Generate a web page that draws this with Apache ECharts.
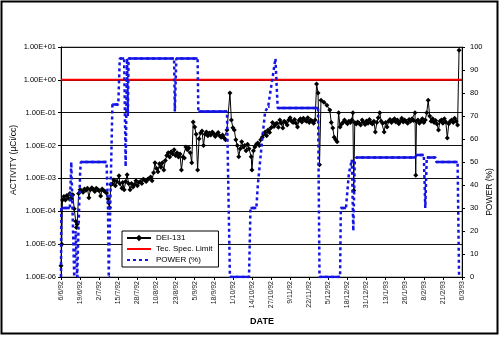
<!DOCTYPE html>
<html>
<head>
<meta charset="utf-8">
<script src="https://cdn.jsdelivr.net/npm/echarts/dist/echarts.min.js"></script>
<style>
html,body{margin:0;padding:0;background:#fff;}
#chart{width:500px;height:339px;}
</style>
</head>
<body>
<div id="chart"></div>
<script>
const tickLabels = ['6/6/92','19/6/92','2/7/92','15/7/92','28/7/92','10/8/92','23/8/92','5/9/92','18/9/92','1/10/92','14/10/92','27/10/92','9/11/92','22/11/92','5/12/92','18/12/92','31/12/92','13/1/93','26/1/93','8/2/93','21/2/93','6/3/93'];
const tickStepDays = 13;

// DEI-131 activity (µCi/cc), day offset from 6/6/92
const deiDays = [0,0.5,1,2,3,4,5,6,7,8,9,10,10.5,11,12,13,14,15,16,17,18,19,20,21,22,23,24,25,26,27,28,29,30,31,32,32.5,33,34,35,36,37,38,39.5,40,41.5,42,43,44,45,46,47,48,49,50,51,52,53,54,55,56,57,58,59,60,61,62,63,64,65,66,67,68,69,70,71,72,73,74,75,76,77,78,79,80,81,82,83,84,85,86,87,88,89,90,91,92,93,94,95,96,97,98,99,100,101,102,103,104,105,106,107,108,109,110,111,112,113,115,116,117,118,119,120,121,122,123,124,125,126,127,128,129.5,130,131,132,133,134,135,136,137,138,139,140,141,142,143,144,145,146,147,148,149,150,151,152,153,154,155,156,157,158,159,160,161,162,163,164,165,166,167,168,169,170,171,172,173,174,175,176,177,179,181,183,184,185,186,187,188,189,190,191,192,193,194,195,196,197,198,198.7,199.3,200,201,202,203,204,205,206,207,208,209,210,211,212,213,214,215,216,217,218,219,220,221,222,223,224,225,226,227,228,229,230,231,232,233,234,235,236,237,238,239,240,241,241.5,242,243,244,245,246,247,248,249,250,251,252,253,254,255,256,257,258,259,260,261,262,263,264,265,266,267,268,269,270,271];
const deiValues = [2.2e-6,1.0e-5,2.2e-4,2.8e-4,2.2e-4,3.0e-4,2.5e-4,3.5e-4,2.4e-4,3.2e-4,1.2e-4,5.0e-5,3.2e-5,4.0e-5,3.5e-4,4.5e-4,4.2e-4,3.8e-4,4.8e-4,4.4e-4,5.0e-4,2.6e-4,4.5e-4,5.2e-4,4.6e-4,4.0e-4,5.0e-4,4.6e-4,4.2e-4,2.9e-4,4.8e-4,4.3e-4,4.0e-4,3.6e-4,2.4e-4,1.8e-4,1.3e-4,6.5e-4,6.9e-4,9.0e-4,6.0e-4,8.0e-4,1.2e-3,7.0e-4,5.0e-4,7.5e-4,4.5e-4,8.0e-4,1.3e-3,7.0e-4,4.5e-4,7.0e-4,5.5e-4,6.5e-4,8.5e-4,6.0e-4,7.5e-4,8.0e-4,7.0e-4,9.5e-4,9.0e-4,8.0e-4,9.5e-4,1.0e-3,1.1e-3,8.5e-4,1.5e-3,3.0e-3,2.0e-3,1.6e-3,2.8e-3,2.2e-3,3.0e-3,1.8e-3,3.5e-3,5.0e-3,6.0e-3,4.5e-3,6.5e-3,5.5e-3,7.4e-3,5.0e-3,6.0e-3,4.5e-3,5.5e-3,1.8e-3,4.5e-3,4.2e-3,9.0e-3,7.4e-3,8.5e-3,6.0e-3,3.0e-3,5.2e-2,3.7e-2,2.2e-2,1.8e-3,1.6e-2,2.4e-2,2.8e-2,1.0e-2,2.2e-2,2.6e-2,2.0e-2,2.4e-2,2.1e-2,2.6e-2,2.3e-2,1.9e-2,2.2e-2,2.5e-2,2.0e-2,1.8e-2,2.1e-2,1.7e-2,1.5e-2,3.0e-2,0.4,6.0e-2,3.5e-2,3.0e-2,1.5e-2,1.0e-2,4.6e-3,8.0e-3,1.3e-2,9.0e-3,1.0e-2,7.0e-3,1.1e-2,8.0e-3,4.6e-3,1.8e-3,7.0e-3,9.0e-3,1.1e-2,1.2e-2,1.0e-2,1.5e-2,1.8e-2,2.2e-2,2.6e-2,2.0e-2,3.0e-2,2.5e-2,3.5e-2,5.0e-2,3.8e-2,4.5e-2,4.8e-2,3.6e-2,6.0e-2,4.8e-2,3.4e-2,5.5e-2,5.0e-2,4.2e-2,6.0e-2,7.0e-2,5.5e-2,5.0e-2,6.2e-2,4.8e-2,3.7e-2,5.8e-2,6.5e-2,5.2e-2,6.8e-2,6.0e-2,5.5e-2,7.0e-2,5.0e-2,6.0e-2,5.5e-2,4.8e-2,6.0e-2,0.75,0.4,2.6e-3,0.24,0.21,0.17,0.12,5.0e-2,3.4e-2,1.8e-2,1.5e-2,1.3e-2,0.1,3.7e-2,4.5e-2,5.0e-2,6.0e-2,5.2e-2,4.6e-2,5.5e-2,5.0e-2,6.0e-2,0.1,4.3e-4,5.0e-2,4.5e-2,5.2e-2,4.8e-2,4.2e-2,6.0e-2,5.0e-2,4.4e-2,5.6e-2,4.8e-2,6.2e-2,5.0e-2,4.5e-2,5.5e-2,2.6e-2,5.0e-2,7.0e-2,0.1,5.5e-2,4.8e-2,2.6e-2,5.0e-2,3.7e-2,5.5e-2,6.2e-2,5.0e-2,5.8e-2,6.5e-2,5.2e-2,6.0e-2,4.6e-2,5.5e-2,6.8e-2,5.2e-2,6.0e-2,5.4e-2,4.8e-2,6.2e-2,5.5e-2,6.5e-2,5.8e-2,0.1,1.25e-3,5.5e-2,6.0e-2,4.8e-2,5.5e-2,6.5e-2,5.0e-2,6.0e-2,0.1,0.24,8.0e-2,5.5e-2,6.5e-2,5.0e-2,5.8e-2,4.5e-2,3.0e-2,5.5e-2,6.0e-2,4.8e-2,6.5e-2,5.2e-2,1.7e-2,4.6e-2,5.5e-2,6.0e-2,5.0e-2,6.8e-2,5.5e-2,4.2e-2,8.0];

// Technical specification limit (µCi/cc)
const limitDays = [0, 273];
const limitValues = [1, 1];

// Reactor power (%)
const powerDays = [0,0.2,6,7,8,9,10,11,12,13,13.5,31,32,32.5,33.5,35,39,40,43,44,45,45.5,46,77,77.5,78.5,93,93.5,113,115,128,129,133,134,137,139,141,142,146,147.5,175,176,190,190.5,194,196,198,199,200,201,241,242,247,248,249,255,255.5,270,271];
const powerValues = [0,30,30,50,25,0,20,0,0,45,50,50,30,0,0,75,75,95,95,48,95,70,95,95,72,95,95,72,72,0,0,30,30,40,60,72,74,74,95,73.5,73.5,0,0,30,30,45,51,20,50,52,52,53,53,30,52,52,50,50,0];

const FONT = '"Liberation Sans", Arial, sans-serif';

const deiData = deiDays.map((d, i) => [d, deiValues[i]]);
const limitData = limitDays.map((d, i) => [d, limitValues[i]]);
const powerData = powerDays.map((d, i) => [d, powerValues[i]]);
// plateau segments (drawn solid, as in the original's rendering)
const plateauData = [];
for (let i = 0; i < powerDays.length - 1; i++) {
  if (powerValues[i] === powerValues[i + 1]) {
    plateauData.push([powerDays[i], powerValues[i]], [powerDays[i + 1], powerValues[i + 1]], [powerDays[i + 1], '-']);
  }
}

function sciLabel(v) {
  const e = Math.round(Math.log10(v));
  const s = e < 0 ? '-' : '+';
  return '1.00E' + s + String(Math.abs(e)).padStart(2, '0');
}

const chart = echarts.init(document.getElementById('chart'), null, {renderer: 'canvas'});
chart.setOption({
  animation: false,
  backgroundColor: '#fff',
  textStyle: {fontFamily: FONT},
  grid: {left: 61, top: 47, width: 401, height: 230, show: true, borderColor: '#808080', borderWidth: 1, backgroundColor: 'transparent'},
  legend: {
    orient: 'vertical', left: 122, top: 231,
    backgroundColor: '#fff', borderColor: '#000', borderWidth: 1,
    padding: [3, 6, 3, 4], itemGap: 3, itemWidth: 24, itemHeight: 8,
    textStyle: {fontSize: 8, color: '#000', fontFamily: FONT},
    data: [
      {name: 'DEI-131'},
      {name: 'Tec. Spec. Limit', itemStyle: {opacity: 0}},
      {name: 'POWER (%)', itemStyle: {opacity: 0}}
    ]
  },
  xAxis: {
    type: 'value', min: 0, max: 273, interval: tickStepDays,
    axisLine: {lineStyle: {color: '#000', width: 1}},
    axisTick: {show: true, length: 3, lineStyle: {color: '#000'}},
    splitLine: {show: false},
    axisLabel: {
      rotate: 90, fontSize: 7, color: '#222', margin: 4, fontFamily: FONT,
      formatter: v => tickLabels[Math.round(v / tickStepDays)] || ''
    }
  },
  yAxis: [{
    type: 'log', logBase: 10, min: 1e-6, max: 10,
    axisLine: {show: true, lineStyle: {color: '#000', width: 1}},
    axisTick: {show: true, length: 3, lineStyle: {color: '#000'}},
    minorTick: {show: false},
    splitLine: {show: true, lineStyle: {color: '#111', width: 1}},
    axisLabel: {fontSize: 7.5, color: '#000', margin: 5, fontFamily: FONT, formatter: sciLabel}
  }, {
    type: 'value', min: 0, max: 100, interval: 10, position: 'right',
    axisLine: {show: true, lineStyle: {color: '#000', width: 1}},
    axisTick: {show: true, length: 3, lineStyle: {color: '#000'}},
    splitLine: {show: false},
    axisLabel: {fontSize: 7.5, color: '#000', margin: 8, fontFamily: FONT}
  }],
  series: [{
    name: 'DEI-131', type: 'line', yAxisIndex: 0, data: deiData,
    symbol: 'diamond', symbolSize: 5, showAllSymbol: true, legendIcon: 'diamond',
    itemStyle: {color: '#000'}, lineStyle: {color: '#000', width: 1},
    z: 3
  }, {
    name: 'Tec. Spec. Limit', type: 'line', yAxisIndex: 0, data: limitData,
    symbol: 'none', lineStyle: {color: '#ff0000', width: 2}, itemStyle: {color: '#ff0000'},
    z: 4
  }, {
    name: 'POWER (%)', type: 'line', yAxisIndex: 1, data: powerData,
    symbol: 'none', lineStyle: {color: '#1414e6', width: 2.5, type: [3, 3]}, itemStyle: {color: '#1414e6'},
    z: 5
  }, {
    name: 'power-plateaus', type: 'line', yAxisIndex: 1, data: plateauData,
    symbol: 'none', connectNulls: false, lineStyle: {color: '#1414e6', width: 2.5}, silent: true,
    z: 5
  }],
  graphic: [
    {type: 'rect', shape: {x: 1.5, y: 1.5, width: 496, height: 332}, style: {fill: 'none', stroke: '#000', lineWidth: 2}, silent: true, z: 100},
    {type: 'text', x: 14, y: 160, rotation: Math.PI / 2, style: {text: 'ACTIVITY (µCi/cc)', font: '8.5px ' + FONT, fill: '#000', align: 'center', verticalAlign: 'middle'}},
    {type: 'text', x: 490, y: 192, rotation: Math.PI / 2, style: {text: 'POWER (%)', font: '8.5px ' + FONT, fill: '#000', align: 'center', verticalAlign: 'middle'}},
    {type: 'text', x: 262, y: 322, style: {text: 'DATE', font: 'bold 9px ' + FONT, fill: '#000', align: 'center', verticalAlign: 'middle'}}
  ]
});
</script>
</body>
</html>
